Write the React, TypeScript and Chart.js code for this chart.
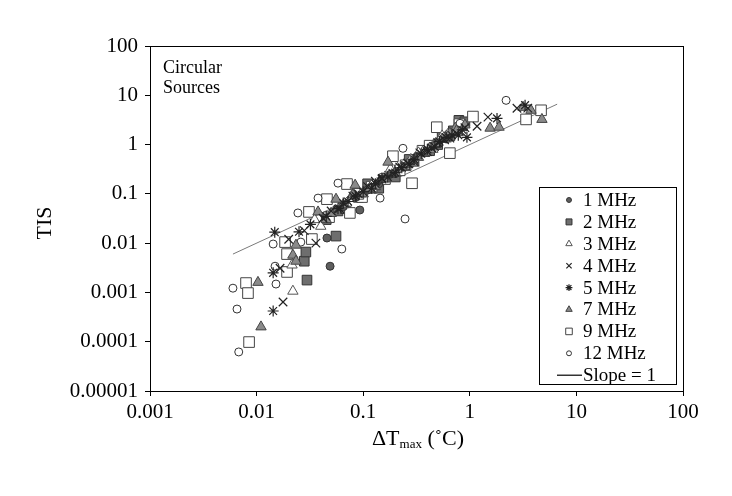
import React, { useEffect, useRef } from 'react';
import { Chart, registerables } from 'chart.js';
import { drawPoint } from 'chart.js/helpers';

Chart.register(...registerables);

// ---- tick labels ----
const xTickLabels = ['0.001', '0.01', '0.1', '1', '10', '100'];
const yTickLabels = ['0.00001', '0.0001', '0.001', '0.01', '0.1', '1', '10', '100'];

// ---- series ----
const mhz1X = [0.0457, 0.0489, 0.093, 0.065, 0.085, 0.11, 0.14, 0.18, 0.24, 0.32, 0.45, 0.6, 0.15, 0.2, 0.28];
const mhz1Y = [0.0127, 0.0034, 0.047, 0.055, 0.085, 0.12, 0.16, 0.25, 0.36, 0.58, 0.95, 1.3, 0.2, 0.26, 0.42];

const mhz2X = [0.028, 0.029, 0.0297, 0.058, 0.0556, 0.79, 0.045, 0.068, 0.09, 0.12, 0.16, 0.22, 0.3, 0.38, 0.5, 0.65, 0.85, 0.11, 0.2, 0.27, 0.42, 0.55, 0.7, 0.9, 0.14];
const mhz2Y = [0.0043, 0.0066, 0.00178, 0.045, 0.0139, 3.1, 0.03, 0.05, 0.085, 0.13, 0.2, 0.3, 0.48, 0.72, 1.0, 1.5, 2.4, 0.16, 0.22, 0.5, 0.75, 1.4, 1.9, 2.9, 0.13];

const mhz3X = [0.0219, 0.0215, 0.035, 0.05, 0.07, 0.095, 0.12, 0.16, 0.21, 0.28, 0.36, 0.48, 0.62, 0.8, 0.08, 0.11, 0.18, 0.25, 0.33, 0.45, 0.55, 0.7, 0.04];
const mhz3Y = [0.00106, 0.0036, 0.03, 0.04, 0.065, 0.1, 0.15, 0.22, 0.33, 0.5, 0.7, 1.05, 1.6, 2.5, 0.1, 0.12, 0.32, 0.36, 0.68, 0.8, 1.5, 1.7, 0.022];

const mhz4X = [0.0177, 0.0166, 0.036, 1.17, 1.48, 2.77, 3.5, 0.02, 0.028, 0.042, 0.06, 0.08, 0.11, 0.15, 0.19, 0.26, 0.34, 0.44, 0.58, 0.75, 0.05, 0.09, 0.13, 0.22, 0.3, 0.4, 0.5, 0.65, 0.9];
const mhz4Y = [0.00064, 0.0031, 0.01, 2.35, 3.6, 5.46, 5.5, 0.012, 0.018, 0.032, 0.05, 0.09, 0.14, 0.2, 0.26, 0.42, 0.68, 0.85, 1.25, 1.7, 0.045, 0.1, 0.18, 0.35, 0.45, 0.72, 1.1, 1.35, 2.2];

const mhz5X = [0.0143, 0.0143, 0.0148, 0.78, 0.94, 1.8, 3.3, 0.025, 0.032, 0.045, 0.058, 0.072, 0.1, 0.13, 0.17, 0.23, 0.3, 0.4, 0.52, 0.68, 0.065, 0.085, 0.12, 0.15, 0.2, 0.27, 0.35, 0.47, 0.6, 0.85];
const mhz5Y = [0.00042, 0.0025, 0.0167, 1.55, 1.4, 3.4, 6.3, 0.017, 0.024, 0.035, 0.05, 0.07, 0.11, 0.16, 0.22, 0.34, 0.5, 0.8, 1.15, 1.55, 0.065, 0.09, 0.13, 0.21, 0.27, 0.4, 0.65, 0.9, 1.4, 2.0];

const mhz7X = [0.0103, 0.011, 0.0234, 0.0219, 0.0234, 0.0377, 0.0556, 0.084, 0.171, 0.73, 1.55, 1.88, 3.16, 3.75, 4.75, 0.065, 0.1, 0.13, 0.2, 0.26, 0.33, 0.42, 0.55, 0.65, 0.08, 0.115, 0.16, 0.23, 0.3, 0.38, 0.48, 0.6, 0.75, 0.9, 0.045, 0.05];
const mhz7Y = [0.0016, 0.0002, 0.0091, 0.0057, 0.0043, 0.043, 0.078, 0.15, 0.44, 2.15, 2.15, 2.25, 5.7, 4.96, 3.24, 0.06, 0.1, 0.14, 0.27, 0.4, 0.55, 0.85, 1.3, 1.7, 0.095, 0.13, 0.2, 0.35, 0.42, 0.7, 1.0, 1.3, 1.9, 2.5, 0.03, 0.04];

const mhz9X = [0.00796, 0.0083, 0.0085, 0.0185, 0.0193, 0.0193, 0.031, 0.033, 0.0457, 0.0478, 0.0705, 0.075, 0.0975, 0.19, 0.287, 0.49, 0.65, 1.07, 3.37, 4.66, 0.12, 0.16, 0.25, 0.36, 0.8, 0.09, 0.22, 0.42];
const mhz9Y = [0.00155, 0.00097, 0.0000984, 0.0105, 0.006, 0.0026, 0.043, 0.0121, 0.078, 0.0337, 0.158, 0.041, 0.086, 0.58, 0.164, 2.25, 0.67, 3.7, 3.24, 4.96, 0.14, 0.2, 0.38, 0.75, 2.6, 0.1, 0.3, 0.95];

const mhz12X = [0.006, 0.00655, 0.0068, 0.0143, 0.0149, 0.0152, 0.026, 0.0244, 0.0377, 0.058, 0.144, 0.063, 0.236, 0.81, 2.19, 0.247, 0.11, 0.3];
const mhz12Y = [0.00122, 0.00046, 0.000062, 0.0096, 0.0034, 0.00148, 0.0105, 0.041, 0.082, 0.165, 0.082, 0.0076, 0.84, 2.7, 7.9, 0.031, 0.12, 0.45];

const slopeX = [0.006, 6.6];
const slopeY = [0.006, 6.6];

const pts = (xs: number[], ys: number[]) => xs.map((x, i) => ({ x, y: ys[i] }));

const FONT = '"Liberation Serif", "Times New Roman", serif';

const overlay = {
  id: 'overlay',
  afterDraw(chart: any) {
    const { ctx, chartArea } = chart;
    ctx.save();
    // frame
    ctx.strokeStyle = '#000';
    ctx.lineWidth = 1;
    ctx.strokeRect(
      Math.round(chartArea.left) + 0.5,
      Math.round(chartArea.top) + 0.5,
      Math.round(chartArea.right - chartArea.left),
      Math.round(chartArea.bottom - chartArea.top)
    );

    // annotation
    ctx.fillStyle = '#000';
    ctx.font = `18px ${FONT}`;
    ctx.textAlign = 'left';
    ctx.textBaseline = 'alphabetic';
    ctx.fillText('Circular', 163, 73);
    ctx.fillText('Sources', 163, 93);

    // y title
    ctx.save();
    ctx.translate(45, 223);
    ctx.rotate(-Math.PI / 2);
    ctx.font = `22px ${FONT}`;
    ctx.textAlign = 'center';
    ctx.textBaseline = 'middle';
    ctx.fillText('TIS', 0, 0);
    ctx.restore();

    // x title with subscript
    const p1 = 'ΔT', p2 = 'max', p3 = ' (˚C)';
    ctx.font = `22px ${FONT}`;
    const w1 = ctx.measureText(p1).width;
    const w3 = ctx.measureText(p3).width;
    ctx.font = `13px ${FONT}`;
    const w2 = ctx.measureText(p2).width;
    let x = 418 - (w1 + w2 + w3) / 2;
    const base = 445;
    ctx.textAlign = 'left';
    ctx.textBaseline = 'alphabetic';
    ctx.font = `22px ${FONT}`;
    ctx.fillText(p1, x, base);
    x += w1;
    ctx.font = `13px ${FONT}`;
    ctx.fillText(p2, x, base + 3);
    x += w2;
    ctx.font = `22px ${FONT}`;
    ctx.fillText(p3, x, base);

    // legend
    const lx = 539.5, ly = 187.5, lw = 137, lh = 197;
    ctx.fillStyle = '#fff';
    ctx.fillRect(lx, ly, lw, lh);
    ctx.strokeStyle = '#000';
    ctx.lineWidth = 1;
    ctx.strokeRect(lx, ly, lw, lh);
    chart.data.datasets.forEach((ds: any, i: number) => {
      const yy = 200 + i * 21.9;
      if (ds.type === 'line') {
        ctx.strokeStyle = '#000';
        ctx.lineWidth = 1.2;
        ctx.beginPath();
        ctx.moveTo(557, yy);
        ctx.lineTo(582, yy);
        ctx.stroke();
      } else {
        ctx.fillStyle = ds.backgroundColor;
        ctx.strokeStyle = ds.borderColor;
        ctx.lineWidth = ds.borderWidth;
        drawPoint(ctx, { pointStyle: ds.pointStyle, radius: ds.pointRadius * 0.62, rotation: 0, borderWidth: ds.borderWidth }, 569, yy);
      }
      ctx.fillStyle = '#000';
      ctx.font = `19px ${FONT}`;
      ctx.textAlign = 'left';
      ctx.textBaseline = 'middle';
      ctx.fillText(ds.label, 583, yy + 1);
    });
    ctx.restore();
  },
};

export default function App() {
  const ref = useRef<HTMLCanvasElement | null>(null);
  useEffect(() => {
    if (!ref.current) return;
    const mk = (label: string, xs: number[], ys: number[], style: string, bg: string, bc: string, r: number, order: number, bw = 1) => ({
      type: 'scatter' as const,
      label,
      data: pts(xs, ys),
      pointStyle: style,
      backgroundColor: bg,
      borderColor: bc,
      pointBackgroundColor: bg,
      pointBorderColor: bc,
      pointRadius: r,
      pointBorderWidth: bw,
      borderWidth: bw,
      showLine: false,
      order,
    });
    const chart = new Chart(ref.current, {
      type: 'scatter',
      data: {
        datasets: [
          mk('1 MHz', mhz1X, mhz1Y, 'circle', '#5e5e5e', '#333333', 4, 3),
          mk('2 MHz', mhz2X, mhz2Y, 'rect', '#6e6e6e', '#333333', 6.8, 6),
          mk('3 MHz', mhz3X, mhz3Y, 'triangle', '#ffffff', '#555555', 6, 4),
          mk('4 MHz', mhz4X, mhz4Y, 'crossRot', '#222222', '#222222', 6, 1, 1.2),
          mk('5 MHz', mhz5X, mhz5Y, 'star', '#222222', '#222222', 5.5, 1, 1.2),
          mk('7 MHz', mhz7X, mhz7Y, 'triangle', '#8a8a8a', '#444444', 6, 2),
          mk('9 MHz', mhz9X, mhz9Y, 'rect', '#ffffff', '#444444', 7.5, 5),
          mk('12 MHz', mhz12X, mhz12Y, 'circle', '#ffffff', '#333333', 4, 3),
          {
            type: 'line' as const,
            label: 'Slope = 1',
            data: pts(slopeX, slopeY),
            borderColor: '#7a7a7a',
            backgroundColor: '#7a7a7a',
            borderWidth: 1,
            pointRadius: 0,
            showLine: true,
            fill: false,
            order: 10,
          } as any,
        ],
      },
      options: {
        responsive: false,
        devicePixelRatio: 1,
        animation: false,
        events: [],
        layout: { padding: { left: 0, right: 49, top: 46, bottom: 0 } },
        plugins: { legend: { display: false }, tooltip: { enabled: false } },
        scales: {
          x: {
            type: 'logarithmic',
            min: 0.001,
            max: 100,
            afterFit: (s: any) => { s.height = 105; },
            afterBuildTicks: (s: any) => { s.ticks = xTickLabels.map((t) => ({ value: Number(t) })); },
            ticks: {
              autoSkip: false,
              maxRotation: 0,
              padding: 4,
              color: '#000',
              font: { family: FONT, size: 21 },
              callback: (_v: any, i: number) => xTickLabels[i],
            },
            grid: { drawOnChartArea: false, drawTicks: true, tickLength: 5, color: '#000' },
            border: { display: true, color: '#000', width: 1 },
          },
          y: {
            type: 'logarithmic',
            min: 0.00001,
            max: 100,
            afterFit: (s: any) => { s.width = 150; },
            afterBuildTicks: (s: any) => { s.ticks = yTickLabels.map((t) => ({ value: Number(t) })); },
            ticks: {
              autoSkip: false,
              padding: 7,
              color: '#000',
              font: { family: FONT, size: 21 },
              callback: (_v: any, i: number) => yTickLabels[i],
            },
            grid: { drawOnChartArea: false, drawTicks: true, tickLength: 5, color: '#000' },
            border: { display: true, color: '#000', width: 1 },
          },
        },
      } as any,
      plugins: [overlay],
    });
    return () => chart.destroy();
  }, []);
  return (
    <div style={{ position: 'absolute', left: 0, top: 0, width: 732, height: 496, background: '#fff' }}>
      <canvas ref={ref} width={732} height={496} style={{ display: 'block' }} />
    </div>
  );
}
